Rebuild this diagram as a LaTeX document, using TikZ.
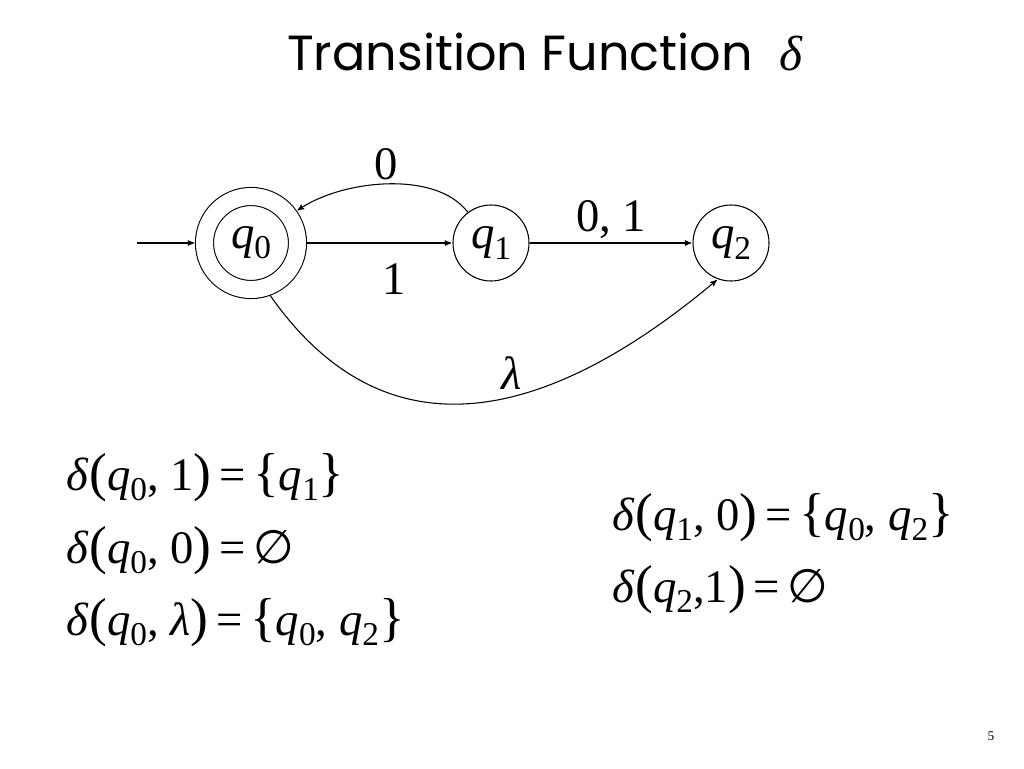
\documentclass[tikz,border=0pt]{standalone}
\usepackage{fontspec}
\setmainfont{Liberation Serif}
\newfontfamily\titlefont{Poppins}
\newfontfamily\symfont{DejaVu Sans}
\usepackage{tikz}
\usetikzlibrary{arrows,automata}

\newcommand{\qs}[1]{\textit{q}\raisebox{-0.22em}{\fontsize{25}{25}\selectfont #1}}
\newcommand{\dl}{{\rmfamily\textit{δ}}}
\newcommand{\lam}{\textit{λ}}
\newcommand{\es}{{\symfont ∅}}
\newcommand{\opar}{{\fontsize{40}{40}\selectfont(}}
\newcommand{\cpar}{{\fontsize{40}{40}\selectfont)}}
\newcommand{\obr}{{\fontsize{40}{40}\selectfont\{}}
\newcommand{\cbr}{{\fontsize{40}{40}\selectfont\}}}

\begin{document}
\begin{tikzpicture}[x=0.75pt,y=-0.75pt,->,>=stealth',shorten >=1pt,auto,node distance=180pt,
                    line width=0.8pt,font=\fontsize{35}{40}\selectfont]
  \tikzstyle{every state}=[circle,draw,minimum size=57pt,inner sep=0pt]
  \tikzstyle{final}=[double,double distance=12.75pt,outer sep=6.8pt,minimum size=69.75pt]
  \useasboundingbox (0,0) rectangle (1024,768);

  \node[font=\titlefont\fontsize{37}{37}\selectfont] (title) at (545,52) {Transition Function \ \dl};

  \node[initial,initial text={},initial distance=44pt,state,final] (q0) at (251,243) {\qs{0}};
  \node[state]         (q1) [right of=q0] {\qs{1}};
  \node[state]         (q2) [right of=q1] {\qs{2}};

  \path (q0) edge node[swap,pos=0.6,inner sep=15pt] {1} (q1)
        (q1) edge [out=127,in=35,looseness=0.8] node[swap,inner sep=3pt] {0} (q0)
             edge node[inner sep=3pt] {0, 1} (q2)
        (q0.-70) edge [out=-55,in=-140,looseness=1.2] node[pos=0.6,inner sep=2pt] {\lam} (q2.-110);

  \node[anchor=base west] (eqa) at (62,490)  {\dl\opar\qs{0}, 1\cpar\,=\,\obr\qs{1}\cbr};
  \node[anchor=base west] (eqb) at (62,563)  {\dl\opar\qs{0}, 0\cpar\,=\,\es};
  \node[anchor=base west] (eqc) at (62,635)  {\dl\opar\qs{0}, \lam\cpar\,=\,\obr\qs{0}, \qs{2}\cbr};
  \node[anchor=base west] (eqd) at (608,530) {\dl\opar\qs{1}, 0\cpar\,=\,\obr\qs{0}, \qs{2}\cbr};
  \node[anchor=base west] (eqe) at (608,602) {\dl\opar\qs{2},1\cpar\,=\,\es};

  \node[font=\fontsize{10}{10}\selectfont] (pg) at (991,736) {5};
\end{tikzpicture}
\end{document}
